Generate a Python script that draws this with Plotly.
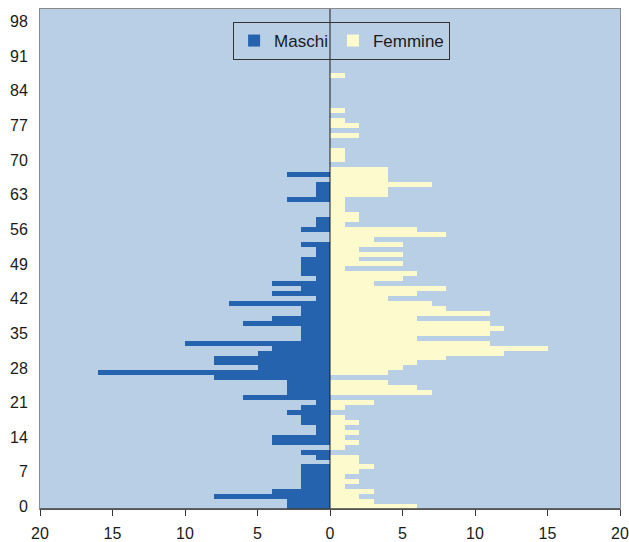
import plotly.graph_objects as go

ages = list(range(101))

male = [3, 3, 8, 4, 2, 2, 2, 2, 2, 0,
        1, 2, 0, 4, 4, 1, 1, 2, 2, 3,
        2, 1, 6, 3, 3, 3, 8, 16, 5, 8,
        8, 5, 4, 10, 2, 2, 2, 6, 4, 2,
        2, 7, 1, 4, 2, 4, 1, 2, 2, 2,
        2, 1, 1, 2, 0, 0, 2, 1, 1, 0,
        0, 0, 3, 1, 1, 1, 0, 3] + [0] * 33

female = [6, 3, 2, 3, 1, 2, 1, 2, 3, 2,
          2, 0, 1, 2, 1, 2, 1, 2, 1, 0,
          1, 3, 0, 7, 6, 4, 0, 4, 5, 6,
          8, 12, 15, 11, 6, 11, 12, 11, 6, 11,
          8, 7, 4, 6, 8, 3, 5, 6, 1, 5,
          2, 5, 2, 5, 3, 8, 6, 1, 2, 2,
          1, 1, 1, 4, 4, 7, 4, 4, 4, 0,
          1, 1, 1, 0, 0, 2, 0, 2, 1, 0,
          1, 0, 0, 0, 0, 0, 0, 1] + [0] * 13

x_ticks = [-20, -15, -10, -5, 0, 5, 10, 15, 20]
x_labels = ["20", "15", "10", "5", "0", "5", "10", "15", "20"]
y_ticks = list(range(0, 99, 7))

fig = go.Figure()
fig.add_bar(y=ages, x=[-v for v in male], orientation="h", name="Maschi",
            marker=dict(color="#2663AF", line_width=0), width=1)
fig.add_bar(y=ages, x=female, orientation="h", name="Femmine",
            marker=dict(color="#FDFACD", line_width=0), width=1)

fig.update_layout(
    barmode="overlay", bargap=0,
    width=629, height=542,
    margin=dict(l=40, r=9, t=9, b=33, autoexpand=False),
    paper_bgcolor="white", plot_bgcolor="#B9CFE5",
    font=dict(family="Liberation Sans, Arial, sans-serif", size=16, color="#1a1a1a"),
    showlegend=True,
    legend=dict(orientation="h", x=0.52, xanchor="center", y=0.974, yanchor="top",
                bgcolor="rgba(0,0,0,0)", bordercolor="#333333", borderwidth=1,
                font=dict(family="Liberation Sans, Arial, sans-serif", size=17),
                itemwidth=30, traceorder="normal"),
    xaxis=dict(range=[-20, 20], tickvals=x_ticks, ticktext=x_labels,
               showgrid=False, zeroline=False, ticks="outside", ticklen=6,
               tickcolor="#333333", showline=True, linecolor="#8a8a8a", mirror=True,
               ticklabelstandoff=4, ticklabeloverflow="allow",
               automargin=False, fixedrange=True),
    yaxis=dict(range=[-0.5, 100.5], tickvals=y_ticks, showgrid=False, zeroline=False,
               ticks="", showline=True, linecolor="#8a8a8a", mirror=True,
               ticklabelstandoff=8, automargin=False, fixedrange=True),
    shapes=[
        dict(type="line", xref="x", yref="paper", x0=0, x1=0, y0=0, y1=1,
             line=dict(color="#1a1a1a", width=1), layer="above"),
        dict(type="line", xref="paper", yref="paper", x0=0, x1=1, y0=0, y1=0,
             line=dict(color="#404040", width=1.5), layer="above"),
    ],
)

fig.write_html(
    "out.html",
    config={"displayModeBar": False},
    post_script="document.body.style.margin='0';document.body.style.overflow='hidden';",
)
